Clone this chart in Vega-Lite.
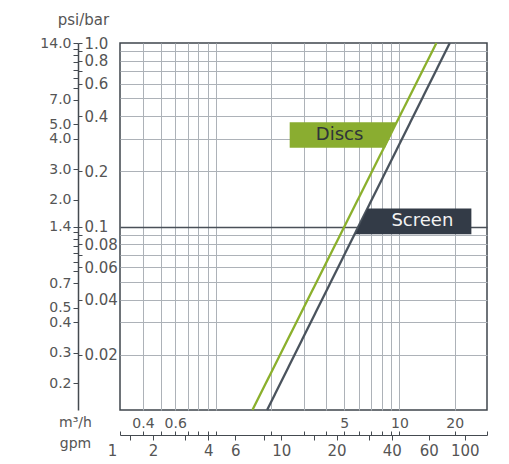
{
  "$schema": "https://vega.github.io/schema/vega-lite/v6.json",
  "width": 367,
  "height": 367,
  "autosize": {"type": "none"},
  "padding": {"left": 120, "top": 43, "right": 22, "bottom": 54},
  "background": "white",
  "config": {
    "view": {"stroke": "#3f454c", "strokeWidth": 1.5},
    "font": "DejaVu Sans",
    "axis": {"labelFont": "DejaVu Sans", "titleFont": "DejaVu Sans", "labelColor": "#555555", "titleColor": "#555555", "titleFontWeight": "normal", "labelFlush": false, "labelOverlap": false}
  },
  "resolve": {"scale": {"color": "independent"}, "axis": {"x": "independent", "y": "independent"}},
  "layer": [
    {
      "data": {"values": [
        {"series": "Discs", "m3h": 1.58, "bar": 0.01},
        {"series": "Discs", "m3h": 15.9, "bar": 1},
        {"series": "Screen", "m3h": 1.9, "bar": 0.01},
        {"series": "Screen", "m3h": 18.8, "bar": 1}
      ]},
      "mark": {"type": "line", "strokeWidth": 2.3},
      "encoding": {
        "x": {"field": "m3h", "type": "quantitative",
          "scale": {"type": "log", "domain": [0.3, 30], "nice": false},
          "axis": {"orient": "bottom", "offset": 0,
            "values": [0.4, 0.5, 0.6, 0.7, 0.8, 0.9, 1, 2, 3, 4, 5, 6, 7, 8, 9, 10, 20],
            "grid": true, "gridColor": "#adb2b8", "gridWidth": 1,
            "ticks": false, "domain": false,
            "labelExpr": "indexof([0.4,0.6,5,10,20], datum.value) >= 0 ? format(datum.value, '~g') : ''",
            "labelPadding": 6, "labelFontSize": 14,
            "title": "m³/h", "titleAngle": 0, "titleX": -45, "titleY": 16, "titleAlign": "center", "titleBaseline": "alphabetic", "titleFontSize": 14}},
        "y": {"field": "bar", "type": "quantitative",
          "scale": {"type": "log", "domain": [0.01, 1], "nice": false},
          "axis": {"orient": "left",
            "values": [0.02, 0.03, 0.04, 0.05, 0.06, 0.07, 0.08, 0.09, 0.1, 0.2, 0.3, 0.4, 0.5, 0.6, 0.7, 0.8, 0.9],
            "grid": true,
            "gridColor": {"condition": {"test": "datum.value == 0.1", "value": "#4a5058"}, "value": "#adb2b8"},
            "gridWidth": {"condition": {"test": "datum.value == 0.1", "value": 1.4}, "value": 1},
            "ticks": false, "labels": false, "domain": false, "title": null}},
        "color": {"field": "series", "type": "nominal",
          "scale": {"domain": ["Discs", "Screen"], "range": ["#8bb02c", "#4a535d"]}, "legend": null}
      }
    },
    {
      "data": {"values": [
        {"box": "Discs", "bar": 0.3694, "xa": 2.522, "xb": 9.65},
        {"box": "Discs", "bar": 0.2684, "xa": 2.522, "xb": 8.35},
        {"box": "Screen", "bar": 0.1254, "xa": 6.71, "xb": 24.65},
        {"box": "Screen", "bar": 0.0908, "xa": 5.75, "xb": 24.65}
      ]},
      "mark": {"type": "area", "orient": "horizontal"},
      "encoding": {
        "y": {"field": "bar", "type": "quantitative",
          "scale": {"type": "log", "domain": [0.01, 1], "nice": false},
          "axis": {"orient": "right", "offset": -409,
            "values": [1, 0.9, 0.8, 0.7, 0.6, 0.4, 0.2, 0.1, 0.09, 0.08, 0.07, 0.06, 0.04, 0.02],
            "grid": false, "domain": false, "ticks": true, "tickSize": 4, "tickColor": "#444a50",
            "labelExpr": "datum.value == 1 ? '1.0' : (indexof([0.8,0.6,0.4,0.2,0.1,0.08,0.06,0.04,0.02], datum.value) >= 0 ? format(datum.value, '~g') : '')",
            "labelPadding": 2, "labelFontSize": 15, "title": null}},
        "x": {"field": "xa", "type": "quantitative",
          "scale": {"type": "log", "domain": [0.3, 30], "nice": false},
          "axis": {"orient": "bottom", "offset": 21,
            "values": [0.3, 0.4, 0.5, 0.6, 0.7, 0.8, 0.9, 1, 2, 3, 4, 5, 6, 7, 8, 9, 10, 20, 30],
            "grid": false, "domain": false, "labels": false, "ticks": true, "tickSize": 4, "tickColor": "#444a50", "title": null}},
        "x2": {"field": "xb"},
        "color": {"field": "box", "type": "nominal",
          "scale": {"domain": ["Discs", "Screen"], "range": ["#8aad30", "#333b47"]}, "legend": null}
      }
    },
    {
      "data": {"values": [
        {"label": "Discs", "m3h": 4.72, "bar": 0.315},
        {"label": "Screen", "m3h": 13.33, "bar": 0.1073}
      ]},
      "mark": {"type": "text", "fontSize": 18, "align": "center", "baseline": "middle"},
      "encoding": {
        "text": {"field": "label"},
        "x": {"field": "m3h", "type": "quantitative",
          "scale": {"type": "log", "domain": [0.3, 30], "nice": false},
          "axis": {"orient": "bottom", "offset": 25,
            "values": [0.3, 0.3407, 0.4542, 0.6814, 0.9085, 1.276, 1.817, 2.271, 3.407, 4.542, 6.814, 9.085, 14.43, 22.71],
            "labelExpr": "['1','','2','','4','6','','10','','20','','40','60','100'][indexof([0.3,0.3407,0.4542,0.6814,0.9085,1.276,1.817,2.271,3.407,4.542,6.814,9.085,14.43,22.71], datum.value)]",
            "labelOffset": {"condition": {"test": "datum.value < 0.31", "value": -8}, "value": 0},
            "tickOpacity": {"condition": {"test": "datum.value < 0.31", "value": 0}, "value": 1},
            "grid": false, "domain": true, "domainColor": "#444a50", "domainWidth": 1.2,
            "ticks": true, "tickSize": 5, "tickColor": "#444a50",
            "labelPadding": 3, "labelFontSize": 15,
            "title": "gpm", "titleAngle": 0, "titleX": -45, "titleY": 12, "titleAlign": "center", "titleBaseline": "alphabetic", "titleFontSize": 14}},
        "y": {"field": "bar", "type": "quantitative",
          "scale": {"type": "log", "domain": [0.01, 1], "nice": false},
          "axis": {"orient": "left", "offset": 42,
            "values": [1, 0.929, 0.857, 0.786, 0.714, 0.643, 0.571, 0.49, 0.36, 0.3, 0.205, 0.14, 0.1, 0.0929, 0.0857, 0.0786, 0.0714, 0.0643, 0.0571, 0.049, 0.036, 0.03, 0.0205, 0.014],
            "labelExpr": "['14.0','','','','','','','7.0','5.0','4.0','3.0','2.0','1.4','','','','','','','0.7','0.5','0.4','0.3','0.2'][indexof([1,0.929,0.857,0.786,0.714,0.643,0.571,0.49,0.36,0.3,0.205,0.14,0.1,0.0929,0.0857,0.0786,0.0714,0.0643,0.0571,0.049,0.036,0.03,0.0205,0.014], datum.value)]",
            "grid": false, "domain": true, "domainColor": "#444a50", "domainWidth": 1.5,
            "ticks": true, "tickSize": 5, "tickColor": "#444a50",
            "labelPadding": 2, "labelFontSize": 14,
            "title": "psi/bar", "titleAngle": 0, "titleX": 5, "titleY": -19, "titleAlign": "center", "titleBaseline": "alphabetic", "titleFontSize": 15}},
        "color": {"field": "label", "type": "nominal",
          "scale": {"domain": ["Discs", "Screen"], "range": ["#2f3439", "#f2f2f2"]}, "legend": null}
      }
    }
  ]
}
